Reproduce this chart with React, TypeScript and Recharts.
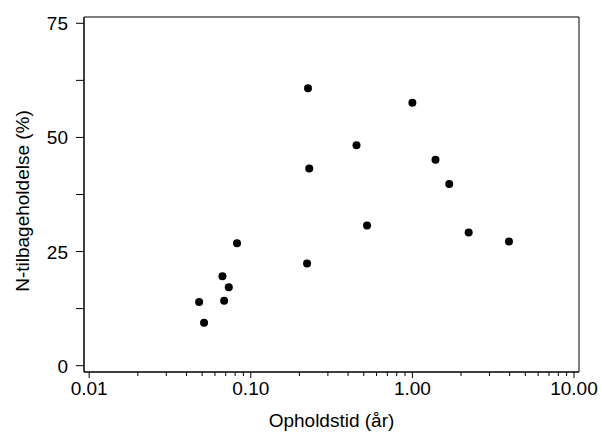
import React from "react";
import { ScatterChart, Scatter, XAxis, YAxis, ReferenceArea, Label } from "recharts";

// residence time (years) and N retention (%) per lake
const residenceYears = [
  0.226, 0.23, 1.0, 0.451, 1.39, 1.69, 0.0822, 0.223, 0.0668, 0.0731, 0.0684, 0.0479, 0.0514, 0.524, 2.23, 3.96,
];
const retentionPct = [
  60.8, 43.2, 57.6, 48.3, 45.1, 39.8, 26.8, 22.4, 19.6, 17.2, 14.2, 13.95, 9.4, 30.7, 29.2, 27.2,
];

const xMajorTicks = [0.01, 0.1, 1, 10];
const xTickLabels = ["0.01", "0.10", "1.00", "10.00"];
const xMinorTicks = [
  0.02, 0.03, 0.04, 0.05, 0.06, 0.07, 0.08, 0.09,
  0.2, 0.3, 0.4, 0.5, 0.6, 0.7, 0.8, 0.9,
  2, 3, 4, 5, 6, 7, 8, 9,
];
const yTicks = [0, 12.5, 25, 37.5, 50, 62.5, 75];
const yLabelled = [0, 25, 50, 75];

const data = residenceYears.map((x, i) => ({ x, y: retentionPct[i] }));

const X_DOMAIN: [number, number] = [Math.pow(10, -2.032), Math.pow(10, 1.031)];
const Y_DOMAIN: [number, number] = [-1.38, 76.38];
const FONT = "'Liberation Sans', Arial, Helvetica, sans-serif";

const XTick = ({ x, y, payload }: any) => {
  const i = xMajorTicks.indexOf(payload.value);
  const major = i >= 0;
  return (
    <g>
      <line x1={x} x2={x} y1={y} y2={y + (major ? 6 : 4)} stroke="#000" strokeWidth={1} />
      {major && (
        <text x={x} y={y + 23} textAnchor="middle" fontSize={19} fontFamily={FONT} fill="#000">
          {xTickLabels[i]}
        </text>
      )}
    </g>
  );
};

const YTick = ({ x, y, payload }: any) => {
  const labelled = yLabelled.includes(payload.value);
  return (
    <g>
      <line x1={x - 8} x2={x} y1={y} y2={y} stroke="#000" strokeWidth={1} />
      {labelled && (
        <text x={x - 16} y={y} dy={7} textAnchor="end" fontSize={19} fontFamily={FONT} fill="#000">
          {payload.value}
        </text>
      )}
    </g>
  );
};

const Dot = (props: any) => <circle cx={props.cx} cy={props.cy} r={4} fill="#000" />;

export default function App() {
  return (
    <div style={{ position: "absolute", left: 0, top: 0, background: "#fff" }}>
      <ScatterChart width={602} height={432} margin={{ top: 17, right: 23, left: 0, bottom: 0 }}>
        <XAxis
          dataKey="x"
          type="number"
          scale="log"
          domain={X_DOMAIN}
          allowDataOverflow
          ticks={[...xMajorTicks, ...xMinorTicks]}
          interval={0}
          tickSize={0}
          tickMargin={0}
          tick={<XTick />}
          height={60}
          axisLine={{ stroke: "#000" }}
        >
          <Label
            content={() => (
              <text x={331.5} y={427} textAnchor="middle" fontSize={19} fontFamily={FONT} fill="#000">
                Opholdstid (år)
              </text>
            )}
          />
        </XAxis>
        <YAxis
          dataKey="y"
          type="number"
          domain={Y_DOMAIN}
          allowDataOverflow
          ticks={yTicks}
          interval={0}
          tickSize={0}
          tickMargin={0}
          tick={<YTick />}
          width={84}
          axisLine={{ stroke: "#000" }}
        >
          <Label
            content={() => (
              <text
                x={29}
                y={201}
                transform="rotate(-90 29 201)"
                textAnchor="middle"
                fontSize={19}
                fontFamily={FONT}
                fill="#000"
              >
                N-tilbageholdelse (%)
              </text>
            )}
          />
        </YAxis>
        <ReferenceArea
          x1={X_DOMAIN[0]}
          x2={X_DOMAIN[1]}
          y1={Y_DOMAIN[0]}
          y2={Y_DOMAIN[1]}
          fill="none"
          stroke="#000"
          ifOverflow="visible"
        />
        <Scatter data={data} shape={<Dot />} isAnimationActive={false} />
      </ScatterChart>
    </div>
  );
}
